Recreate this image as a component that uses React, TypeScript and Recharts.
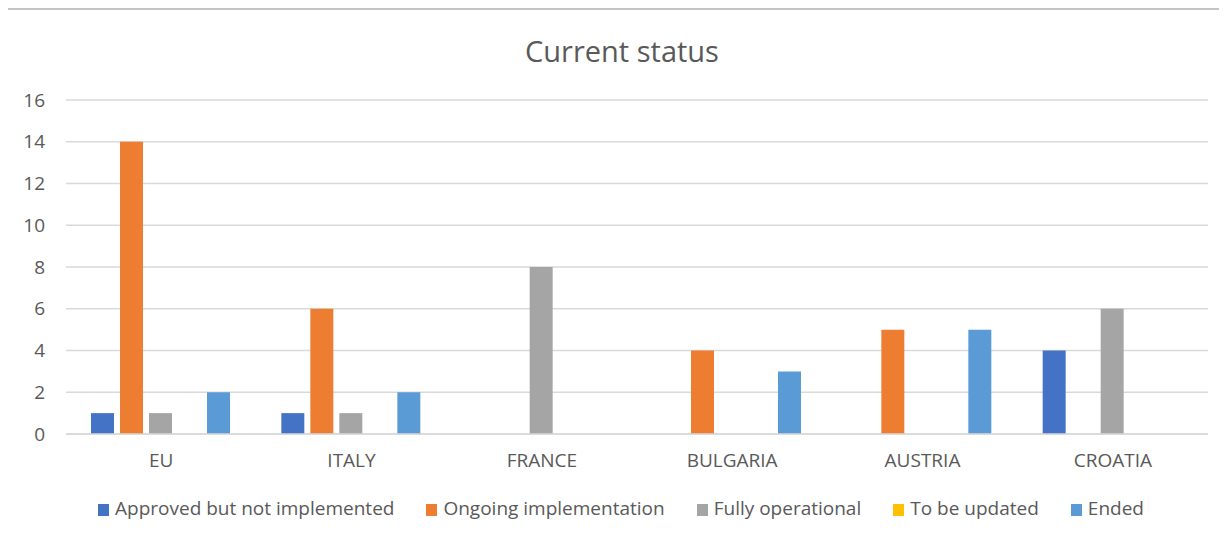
import { BarChart, Bar, XAxis, YAxis, CartesianGrid, Legend } from 'recharts';

const countries = ['EU', 'ITALY', 'FRANCE', 'BULGARIA', 'AUSTRIA', 'CROATIA'];
const approvedNotImplemented = [1, 1, 0, 0, 0, 4];
const ongoingImplementation = [14, 6, 0, 4, 5, 0];
const fullyOperational = [1, 1, 8, 0, 0, 6];
const toBeUpdated = [0, 0, 0, 0, 0, 0];
const ended = [2, 2, 0, 3, 5, 0];
const yTicks = [0, 2, 4, 6, 8, 10, 12, 14, 16];

const series = [
  { key: 'approved', name: 'Approved but not implemented', color: '#4472C4', values: approvedNotImplemented },
  { key: 'ongoing', name: 'Ongoing implementation', color: '#ED7D31', values: ongoingImplementation },
  { key: 'fully', name: 'Fully operational', color: '#A5A5A5', values: fullyOperational },
  { key: 'update', name: 'To be updated', color: '#FFC000', values: toBeUpdated },
  { key: 'ended', name: 'Ended', color: '#5B9BD5', values: ended },
];

const data = countries.map((name, i) => {
  const row: Record<string, any> = { name };
  series.forEach(s => { row[s.key] = s.values[i]; });
  return row;
});

const FONT = '"Open Sans", sans-serif';
const TEXT = '#595959';

function LegendContent({ payload }: any) {
  // keep series order, not the alphabetical one
  const items = [...(payload || [])].sort(
    (a: any, b: any) => series.findIndex(s => s.name === a.value) - series.findIndex(s => s.name === b.value)
  );
  return (
    <div style={{ display: 'flex', justifyContent: 'center', alignItems: 'center', paddingLeft: 7, fontFamily: FONT, fontSize: 19, color: TEXT, lineHeight: '26px' }}>
      {items.map((p: any, i: number) => (
        <div key={p.value} style={{ display: 'flex', alignItems: 'center', marginLeft: i === 0 ? 0 : 32 }}>
          <span style={{ display: 'inline-block', width: 11, height: 12, background: p.color, marginRight: 6, marginTop: 3 }} />
          <span>{p.value}</span>
        </div>
      ))}
    </div>
  );
}

export default function App() {
  return (
    <div style={{ position: 'relative', marginLeft: -2, width: 1221, height: 534, borderTop: '2px solid #c4c4c4', boxSizing: 'border-box', background: '#fff' }}>
      <div style={{ position: 'absolute', left: 0, top: -2, width: 2, height: 536, background: '#c4c4c4', zIndex: 5 }} />
      <div style={{ position: 'absolute', top: 26, left: 0, width: 1232, textAlign: 'center', fontFamily: FONT, fontSize: 29, lineHeight: 1, color: TEXT }}>
        Current status
      </div>
      <div style={{ position: 'absolute', left: 2, top: 0 }}>
        <BarChart
          width={1219}
          height={532}
          data={data}
          margin={{ top: 90, right: 19, left: 0, bottom: 48 }}
          barCategoryGap={25}
          barGap={6}
        >
          <CartesianGrid vertical={false} stroke="#d9d9d9" strokeWidth={1.5} />
          <XAxis
            dataKey="name"
            height={60}
            tickSize={0}
            tickMargin={20}
            axisLine={{ stroke: '#d9d9d9', strokeWidth: 1.5 }}
            tickLine={false}
            tick={{ fill: TEXT, fontSize: 19, fontFamily: FONT }}
          />
          <YAxis
            width={58}
            domain={[0, 16]}
            ticks={yTicks}
            tickSize={0}
            tickMargin={21}
            axisLine={false}
            tickLine={false}
            tick={{ fill: TEXT, fontSize: 19, fontFamily: FONT }}
          />
          <Legend
            layout="horizontal"
            verticalAlign="middle"
            align="center"
            content={<LegendContent />}
            wrapperStyle={{ position: 'absolute', top: 485, left: 0, width: 1219 }}
          />
          {series.map(s => (
            <Bar key={s.key} dataKey={s.key} name={s.name} fill={s.color} isAnimationActive={false} />
          ))}
        </BarChart>
      </div>
    </div>
  );
}
